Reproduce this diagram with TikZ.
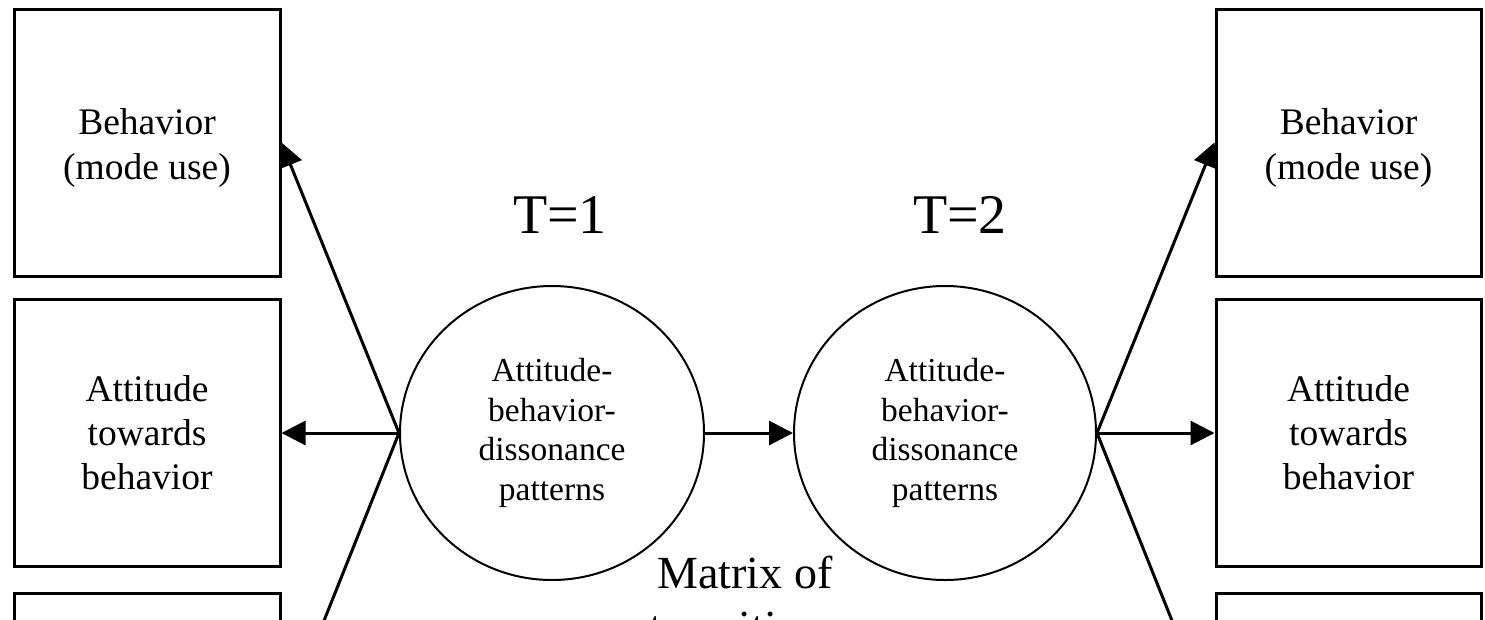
\documentclass[tikz,border=0pt]{standalone}
\usepackage{fontspec}
\setmainfont{Liberation Serif}
\usetikzlibrary{arrows.meta,shapes.geometric}
\tikzset{
  boxnode/.style={draw, line width=3pt, minimum width=266pt, minimum height=267pt, inner sep=0pt, align=center, font=\fontsize{37.5}{44}\selectfont},
  boxtext/.style={inner sep=0pt, align=center, font=\fontsize{37.5}{45}\selectfont},
  ovalnode/.style={draw, ellipse, line width=2pt, minimum width=304pt, minimum height=294pt, inner sep=0pt, align=center, font=\fontsize{33.5}{39.5}\selectfont},
  arr/.style={line width=3pt, -{Triangle[length=24pt,width=24pt]}},
  bigtext/.style={font=\fontsize{56}{60}\selectfont, inner sep=0pt, anchor=base},
  midtext/.style={font=\fontsize{46}{54}\selectfont, inner sep=0pt, anchor=base}
}
\begin{document}
\begin{tikzpicture}[x=1pt,y=-1pt]
\fill[white] (0,0) rectangle (1485,619);
\useasboundingbox (0,0) rectangle (1485,619);
\clip (0,0) rectangle (1485,619);
% left boxes
\node[boxnode] (b1L) at (147,142.5) {};
\node[boxtext] (b1Ltext) at (147,148) {Behavior\\(mode use)};
\node[boxnode] (b2L) at (147,433) {Attitude\\towards\\behavior};
\node[boxnode] (b3L) at (147,727) {};
% right boxes
\node[boxnode, minimum width=265pt] (b1R) at (1348.5,142.5) {};
\node[boxtext] (b1Rtext) at (1348.5,148) {Behavior\\(mode use)};
\node[boxnode, minimum width=265pt] (b2R) at (1348.5,433) {Attitude\\towards\\behavior};
\node[boxnode, minimum width=265pt] (b3R) at (1348.5,727) {};
% circles
\node[ovalnode] (c1) at (552,433) {Attitude-\\behavior-\\dissonance\\patterns};
\node[ovalnode, minimum width=302pt] (c2) at (945,433) {Attitude-\\behavior-\\dissonance\\patterns};
% labels
\node[bigtext] (t1) at (560,233) {T=1};
\node[bigtext] (t2) at (960,233) {T=2};
\node[midtext] (m1) at (745,588) {Matrix of};
\node[midtext] (m2) at (745,642) {transitions};
% connectors
\draw[arr] (c1.west) -- (b1L.east);
\draw[arr] (c1.west) -- (b2L.east);
\draw[arr] (c1.west) -- (b3L.east);
\draw[arr] (c1.east) -- (c2.west);
\draw[arr] (c2.east) -- (b1R.west);
\draw[arr] (c2.east) -- (b2R.west);
\draw[arr] (c2.east) -- (b3R.west);
\end{tikzpicture}
\end{document}
